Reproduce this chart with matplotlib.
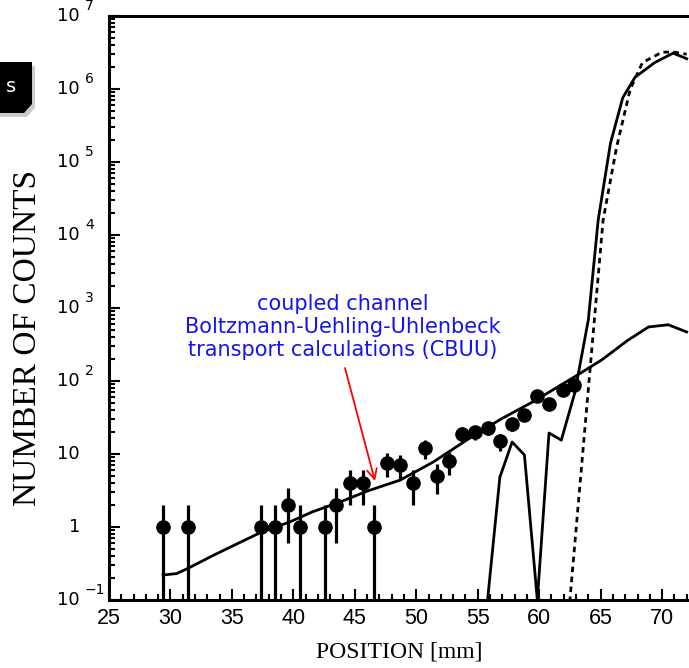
import matplotlib.pyplot as plt
import numpy as np
from matplotlib.patches import Polygon
from matplotlib.ticker import MultipleLocator, LogLocator, NullFormatter
from matplotlib.transforms import blended_transform_factory

# measured points (position in mm, counts) with asymmetric error bars
pos = [29.4, 31.4, 37.4, 38.5, 39.6, 40.5, 42.6, 43.5, 44.6, 45.7, 46.6, 47.6, 48.7, 49.7,
       50.7, 51.7, 52.7, 53.7, 54.8, 55.8, 56.8, 57.8, 58.8, 59.8, 60.8, 61.9, 62.8]
counts = [1, 1, 1, 1, 2, 1, 1, 2, 4, 4, 1, 7.5, 7, 4,
          12, 5, 8, 19, 20, 23, 15, 26, 34, 62, 48, 75, 89]
err_lo = [0.99, 0.99, 0.99, 0.99, 1.4, 0.99, 0.99, 1.4, 2, 2, 0.99, 2.7, 2.6, 2,
          3.5, 2.2, 2.8, 4.4, 4.5, 4.8, 3.9, 5.1, 5.8, 7.9, 6.9, 8.7, 9.4]
err_hi = [1, 1, 1, 1, 1.4, 1, 1, 1.4, 2, 2, 1, 2.7, 2.6, 2,
          3.5, 2.2, 2.8, 4.4, 4.5, 4.8, 3.9, 5.1, 5.8, 7.9, 6.9, 8.7, 9.4]

# CBUU calculation (smooth solid curve)
cbuu_x = [29.4, 30.5, 31.4, 33.5, 35.7, 37.4, 39.7, 41.5, 43.8, 46.0, 48.7, 51.4,
          54.1, 56.8, 59.5, 62.8, 65.1, 67.2, 68.9, 70.5, 72.0]
cbuu_y = [0.22, 0.23, 0.27, 0.41, 0.62, 0.85, 1.17, 1.6, 2.2, 3.1, 4.4, 7.8,
          15.5, 29.5, 52, 112, 195, 360, 550, 590, 470]

# second solid curve (with dip, then steep rise)
sol_x = [55.8, 56.8, 57.8, 58.8, 59.85, 60.8, 61.8, 62.9, 64.0, 64.8, 65.8, 66.8,
         67.8, 69.4, 70.9, 72.0]
sol_y = [0.1, 4.8, 14.6, 9.7, 0.1, 19.4, 15.5, 69, 690, 1.6e4, 1.8e5, 7.6e5,
         1.45e6, 2.3e6, 3.1e6, 2.6e6]

# dashed curve
dash_x = [62.35, 62.5, 65.2, 66.3, 67.4, 68.4, 70.0, 71.0, 72.0]
dash_y = [0.05, 0.1, 1.6e4, 1.6e5, 9.8e5, 2.3e6, 3.2e6, 3.2e6, 3.0e6]

ytick_vals = [0.1, 1, 10, 1e2, 1e3, 1e4, 1e5, 1e6, 1e7]
ytick_exp = ['\u22121', '', '', '2', '3', '4', '5', '6', '7']
ytick_base = ['10', '1', '10', '10', '10', '10', '10', '10', '10']

W, H = 689, 668
fig = plt.figure(figsize=(W / 100, H / 100), dpi=100)
ax = fig.add_axes([109 / W, 68 / H, 580 / W, 584 / H])

ax.plot(cbuu_x, cbuu_y, color='black', lw=2)
ax.plot(sol_x, sol_y, color='black', lw=2)
ax.plot(dash_x, dash_y, color='black', lw=2, linestyle=(0, (2.0, 1.6)))
ax.errorbar(pos, counts, yerr=[err_lo, err_hi], fmt='o', color='black',
            markersize=9.5, elinewidth=2.3, capsize=0)

ax.set_yscale('log')
ax.set_xlim(25, 72.19)
ax.set_ylim(0.1, 1e7)

ax.xaxis.set_major_locator(MultipleLocator(5))
ax.xaxis.set_minor_locator(MultipleLocator(1))
ax.yaxis.set_major_locator(LogLocator(base=10, numticks=20))
ax.yaxis.set_minor_locator(LogLocator(base=10, subs=np.arange(2, 10), numticks=20))
ax.yaxis.set_minor_formatter(NullFormatter())
ax.set_yticklabels([])
ax.tick_params(which='both', direction='in', width=1.5, top=False, right=False)
ax.tick_params(which='major', length=8)
ax.tick_params(which='minor', length=4)
ax.tick_params(axis='x', labelsize=15.5, pad=6)
for lab in ax.get_xticklabels():
    lab.set_family('Liberation Sans')

for side in ['left', 'bottom', 'top']:
    ax.spines[side].set_linewidth(2.2)
ax.spines['right'].set_visible(False)

# y tick labels drawn as "10" with raised exponent
tr = blended_transform_factory(fig.transFigure, ax.transData)
for v, b, e in zip(ytick_vals, ytick_base, ytick_exp):
    ax.text(80 / W, v, b, transform=tr, ha='right', va='center', fontsize=13,
            family='DejaVu Sans', clip_on=False)
    if e:
        ax.text(85 / W, v * 1.35, e, transform=tr, ha='left', va='center', fontsize=10,
                family='DejaVu Sans', clip_on=False)

fig.text(28 / W, 1 - 338 / H, 'NUMBER OF COUNTS', rotation=90, ha='center', va='center',
         fontsize=24, family='Liberation Serif')
fig.text(399 / W, 1 - 652 / H, 'POSITION [mm]', ha='center', va='center',
         fontsize=17, family='Liberation Serif')

# annotation
fig.text(343 / W, 1 - 327 / H,
         'coupled channel\nBoltzmann-Uehling-Uhlenbeck\ntransport calculations (CBUU)',
         ha='center', va='center', color='#1414f0', fontsize=15, family='DejaVu Sans',
         linespacing=1.2)
ax.annotate('', xy=(375 / W, 1 - 481 / H), xytext=(345 / W, 1 - 368 / H),
            xycoords='figure fraction', textcoords='figure fraction',
            arrowprops=dict(arrowstyle='->', color='red', lw=1.3, mutation_scale=18,
                            shrinkA=0, shrinkB=0))

# clipped black label box at the left edge
def px(pts):
    return [(x / W, 1 - y / H) for x, y in pts]

shadow = Polygon(px([(0, 66), (35, 66), (35, 108), (27, 117), (0, 117)]),
                 closed=True, transform=fig.transFigure, facecolor='#aaaaaa',
                 edgecolor='none', alpha=0.6)
box = Polygon(px([(0, 62), (32, 62), (32, 104), (24, 113), (0, 113)]),
              closed=True, transform=fig.transFigure, facecolor='black', edgecolor='none')
fig.patches.extend([shadow, box])
fig.text(6 / W, 1 - 86 / H, 's', color='white', fontsize=14, ha='left', va='center',
         family='DejaVu Sans')

fig.savefig('out.png', dpi=100)
